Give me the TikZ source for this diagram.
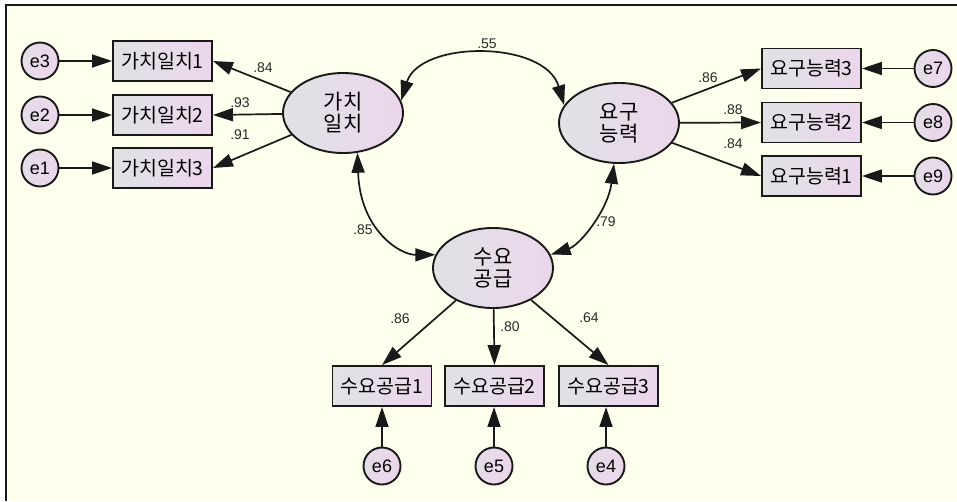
\documentclass[tikz,border=0pt]{standalone}
\usepackage{fontspec}
\setmainfont{Liberation Sans}
\newfontfamily\kr{Noto Sans CJK KR}
\usetikzlibrary{arrows.meta,shapes.geometric}

\definecolor{cream}{RGB}{255,255,238}
\definecolor{fillL}{RGB}{224,226,228}
\definecolor{fillR}{RGB}{236,214,236}
\definecolor{edge}{RGB}{25,25,25}
\definecolor{numtxt}{RGB}{40,40,40}

\tikzset{
  obsbox/.style={rectangle, draw=edge, line width=1.9pt, left color=fillL, right color=fillR,
    minimum width=99pt, minimum height=40pt, inner sep=0pt, font=\kr\fontsize{19.5}{19.5}\selectfont},
  latent/.style={ellipse, draw=edge, line width=1.9pt, left color=fillL, right color=fillR,
    minimum width=120pt, minimum height=80pt, inner sep=0pt, align=center,
    font=\kr\fontsize{21}{22}\selectfont},
  errc/.style={circle, draw=edge, line width=1.9pt, left color=fillL!60!fillR, right color=fillR,
    minimum size=37pt, inner sep=0pt, font=\fontsize{18}{18}\selectfont},
  path1/.style={draw=edge, line width=1.7pt, -{Triangle[length=20pt,width=13pt]}},
  cov/.style={draw=edge, line width=1.7pt, {Triangle[length=20pt,width=13pt]}-{Triangle[length=20pt,width=13pt]}},
  coef/.style={font=\fontsize{14}{14}\selectfont, text=numtxt, inner sep=0pt}
}

\begin{document}
\begin{tikzpicture}[x=1pt,y=-1pt]
  % canvas and frame
  \useasboundingbox (0,0) rectangle (957,501);
  \fill[white] (0,0) rectangle (957,501);
  \fill[cream] (6,5) rectangle (957,501);
  \draw[edge, line width=1.8pt] (6,501) -- (6,5) -- (957,5);

  % latent factors
  \node[latent] (kv) at (343,113) {가치\\일치};
  \node[latent] (yn) at (619,123) {요구\\능력};
  \node[latent] (sg) at (493,268) {수요\\공급};

  % indicators
  \node[obsbox] (a1) at (162.5,61) {가치일치1};
  \node[obsbox] (a2) at (162.5,115) {가치일치2};
  \node[obsbox] (a3) at (162.5,168) {가치일치3};
  \node[obsbox] (b3) at (811.5,68.5) {요구능력3};
  \node[obsbox] (b2) at (811.5,122.5) {요구능력2};
  \node[obsbox] (b1) at (811.5,176) {요구능력1};
  \node[obsbox] (c1) at (382,386) {수요공급1};
  \node[obsbox] (c2) at (494.5,386) {수요공급2};
  \node[obsbox] (c3) at (608.5,386) {수요공급3};

  % error terms
  \node[errc] (e3) at (40,61) {e3};
  \node[errc] (e2) at (40,115) {e2};
  \node[errc] (e1) at (40,168) {e1};
  \node[errc] (e7) at (933,68.5) {e7};
  \node[errc] (e8) at (933,122.5) {e8};
  \node[errc] (e9) at (933,176) {e9};
  \node[errc] (e6) at (382,466) {e6};
  \node[errc] (e5) at (494,466) {e5};
  \node[errc] (e4) at (606,466) {e4};

  % loadings
  \path[path1] (kv) -- (a1.east);
  \path[path1] (kv) -- (a2.east);
  \path[path1] (kv) -- (a3.east);
  \path[path1] (yn) -- (b3.west);
  \path[path1] (yn) -- (b2.west);
  \path[path1] (yn) -- (b1.west);
  \path[path1] (sg) -- (c1.north);
  \path[path1] (sg) -- (c2.north);
  \path[path1] (sg) -- (c3.north);

  % error paths
  \path[path1] (e3) -- (a1);
  \path[path1] (e2) -- (a2);
  \path[path1] (e1) -- (a3);
  \path[path1] (e7) -- (b3);
  \path[path1] (e8) -- (b2);
  \path[path1] (e9) -- (b1);
  \path[path1] (e6) -- (c1);
  \path[path1] (e5) -- (e5 |- c2.south);
  \path[path1] (e4) -- (e4 |- c3.south);

  % factor covariances
  \path[cov] (kv.12) .. controls (420,40) and (545,40) .. (yn.162);
  \path[cov] (kv.-70) .. controls (360,230) and (400,255) .. (sg.167);
  \path[cov] (yn.-97) .. controls (608,210) and (580,245) .. (sg.13);

  % coefficients
  \node[coef] (k1) at (263,68) {.84};
  \node[coef] (k2) at (240,103) {.93};
  \node[coef] (k3) at (240,135) {.91};
  \node[coef] (r55) at (487,44) {.55};
  \node[coef] (r85) at (363,230) {.85};
  \node[coef] (r79) at (606,222) {.79};
  \node[coef] (y1) at (708,78) {.86};
  \node[coef] (y2) at (733,110) {.88};
  \node[coef] (y3) at (733,144) {.84};
  \node[coef] (s1) at (400,319) {.86};
  \node[coef] (s2) at (510,327) {.80};
  \node[coef] (s3) at (589,318) {.64};
\end{tikzpicture}
\end{document}
